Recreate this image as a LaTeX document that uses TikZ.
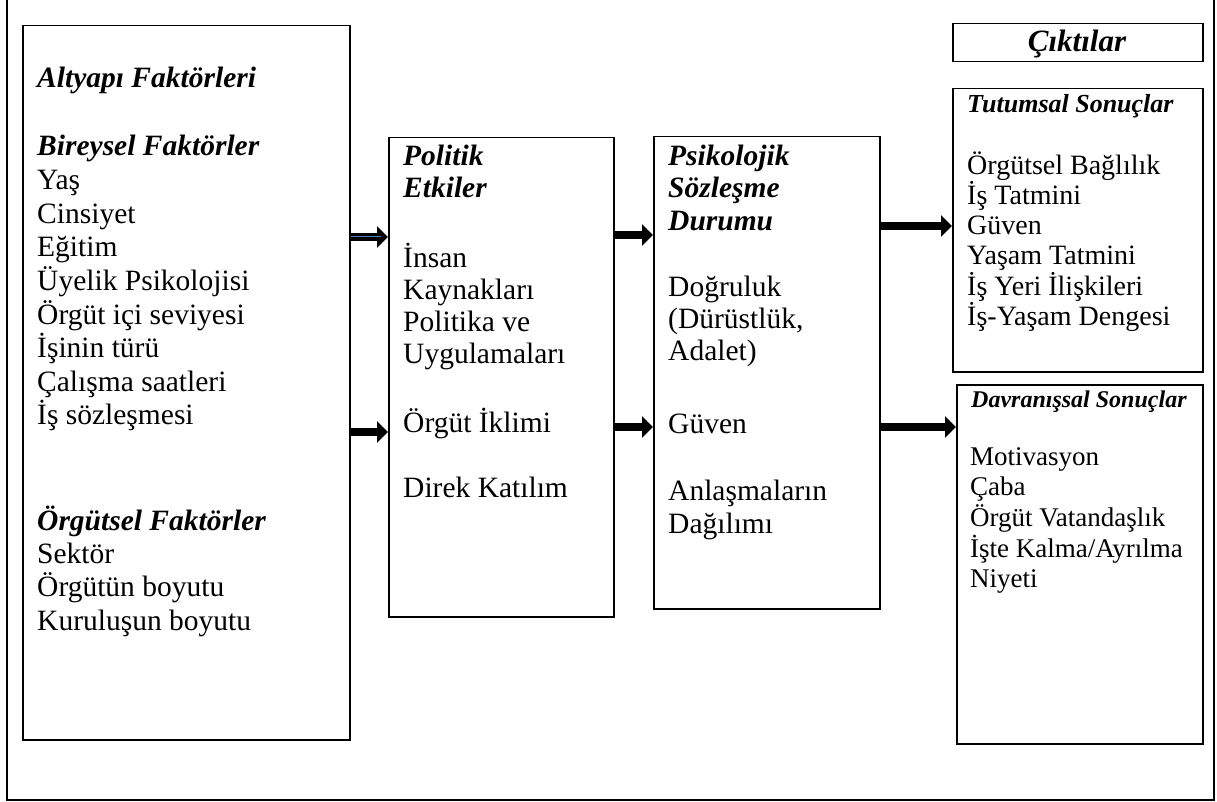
\documentclass[tikz,border=0pt]{standalone}
\usepackage{fontspec}
\setmainfont{Liberation Serif}
\usetikzlibrary{arrows.meta}
\definecolor{wordblue}{HTML}{4A7EBB}
\tikzset{
  box/.style={draw, line width=1.5pt, inner sep=0pt, anchor=north west},
  item/.style={anchor=base west, inner sep=0pt, font=\fontsize{29.5}{33}\selectfont},
  head/.style={item, font=\fontsize{29.5}{33}\selectfont\bfseries\itshape},
  smallitem/.style={item, font=\fontsize{28}{30}\selectfont},
  arr/.style={line width=8pt, -{Triangle[length=11pt,width=21pt]}}
}
\begin{document}
\begin{tikzpicture}[x=1pt,y=-1pt]
   \useasboundingbox (0,0) rectangle (1217,802);
   %cornice
   \draw[line width=1.5pt] (7,0) -- (7,800) -- (1214,800) -- (1214,0);
   %riquadri
   \node[box, minimum width=327pt, minimum height=714pt] (infra) at (22,25) {};
   \node[box, minimum width=225pt, minimum height=479pt] (polit) at (388,137) {};
   \node[box, minimum width=226pt, minimum height=472pt] (psiko) at (653,136) {};
   \node[box, minimum width=250pt, minimum height=38pt] (cikti) at (952,23) {};
   \node[box, minimum width=250pt, minimum height=283pt] (tutum) at (952,88) {};
   \node[box, minimum width=246pt, minimum height=359pt] (davra) at (956,384) {};
   %altyapi
   \node[head] (infra-t) at (37,88) {Altyapı Faktörleri};
   \node[head] (birey-t) at (37,156) {Bireysel Faktörler};
   \foreach \t [count=\i from 0] in {Yaş, Cinsiyet, Eğitim, Üyelik Psikolojisi, Örgüt içi seviyesi, İşinin türü, Çalışma saatleri, İş sözleşmesi}
      \node[item] (birey-\i) at (37,{190+33.5*\i}) {\t};
   \node[head] (orgut-t) at (37,530) {Örgütsel Faktörler};
   \foreach \t [count=\i from 0] in {Sektör, Örgütün boyutu, Kuruluşun boyutu}
      \node[item] (orgut-\i) at (37,{563+33.5*\i}) {\t};
   %politik
   \node[head] (polit-t1) at (403,166) {Politik};
   \node[head] (polit-t2) at (403,198) {Etkiler};
   \foreach \t [count=\i from 0] in {İnsan, Kaynakları, Politika ve, Uygulamaları}
      \node[item] (polit-\i) at (403,{268+31.7*\i}) {\t};
   \node[item] (polit-4) at (403,432) {Örgüt İklimi};
   \node[item] (polit-5) at (403,497) {Direk Katılım};
   %psikolojik
   \node[head] (psiko-t1) at (668,166) {Psikolojik};
   \node[head] (psiko-t2) at (668,198) {Sözleşme};
   \node[head] (psiko-t3) at (668,231) {Durumu};
   \node[item] (psiko-0) at (668,296) {Doğruluk};
   \node[item] (psiko-1) at (668,328) {(Dürüstlük,};
   \node[item] (psiko-2) at (668,360) {Adalet)};
   \node[item] (psiko-3) at (668,433) {Güven};
   \node[item] (psiko-4) at (668,500) {Anlaşmaların};
   \node[item] (psiko-5) at (668,533) {Dağılımı};
   %ciktilar
   \node[anchor=base, inner sep=0pt, font=\fontsize{31}{36}\selectfont\bfseries\itshape] (cikti-t) at (1077,52) {Çıktılar};
   \node[head, font=\fontsize{26}{30}\selectfont\bfseries\itshape] (tutum-t) at (967,113) {Tutumsal Sonuçlar};
   \foreach \t [count=\i from 0] in {Örgütsel Bağlılık, İş Tatmini, Güven, Yaşam Tatmini, İş Yeri İlişkileri, İş-Yaşam Dengesi}
      \node[smallitem] (tutum-\i) at (967,{175+30*\i}) {\t};
   \node[head, font=\fontsize{24}{28}\selectfont\bfseries\itshape] (davra-t) at (971,407) {Davranışsal Sonuçlar};
   \foreach \t [count=\i from 0] in {Motivasyon, Çaba, Örgüt Vatandaşlık, İşte Kalma/Ayrılma, Niyeti}
      \node[smallitem, font=\fontsize{27}{30}\selectfont] (davra-\i) at (970,{465+30.7*\i}) {\t};
   %frecce
   \coordinate (blu) at (381,237);
   \draw[arr] (infra.east |- blu) -- (polit.west |- blu);
   \draw[wordblue, line width=1pt] (infra.east |- blu) -- (blu);
   \draw[arr] (infra.east |- 0,432) -- (polit.west |- 0,432);
   \draw[arr] (polit.east |- 0,235) -- (psiko.west |- 0,235);
   \draw[arr] (polit.east |- 0,427) -- (psiko.west |- 0,427);
   \draw[arr] (psiko.east |- 0,226) -- (tutum.west |- 0,226);
   \draw[arr] (psiko.east |- 0,427) -- (davra.west |- 0,427);
\end{tikzpicture}
\end{document}
